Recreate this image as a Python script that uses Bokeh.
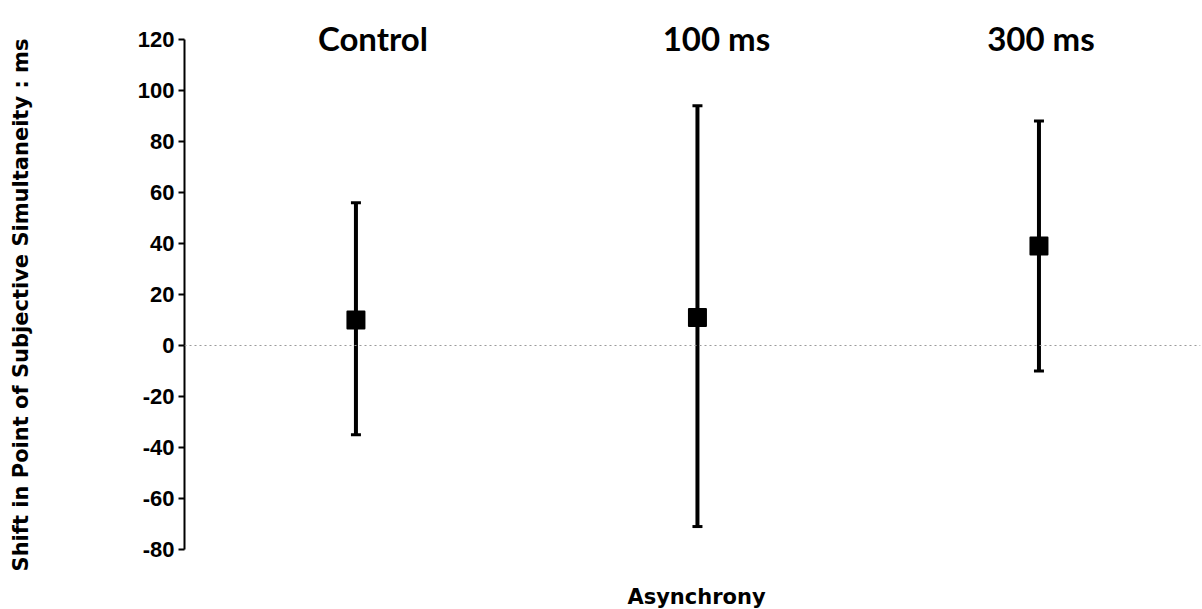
import math
from bokeh.plotting import figure
from bokeh.models import (ColumnDataSource, Whisker, TeeHead, Label, Span,
                          Range1d, FixedTicker)
from bokeh.embed import file_html
from bokeh.resources import INLINE

# ---- data ----
conditions = ["Control", "100 ms", "300 ms"]
positions = [1, 2, 3]
means = [10, 11, 39]
upper = [56, 94, 88]
lower = [-35, -71, -10]
y_ticks = [-80, -60, -40, -20, 0, 20, 40, 60, 80, 100, 120]
y_title = "Shift in Point of Subjective Simultaneity : ms"
x_title = "Asynchrony"

src = ColumnDataSource(dict(x=positions, mean=means, upper=upper, lower=lower))

# frame covers the full height; the axis itself is bounded to -80..120
p = figure(width=1202, height=609, output_backend="svg", toolbar_location=None,
           x_range=Range1d(0.498, 3.473), y_range=Range1d(-103.53, 135.29),
           x_axis_location=None, min_border_left=184, min_border_right=2,
           min_border_top=0, min_border_bottom=0)
p.outline_line_color = None
p.grid.visible = False
p.background_fill_color = "white"
p.border_fill_color = "white"

yax = p.yaxis[0]
yax.bounds = (min(y_ticks), max(y_ticks))
yax.ticker = FixedTicker(ticks=y_ticks)
yax.major_label_overrides = {t: str(t) for t in y_ticks}
yax.axis_line_color = "black"
yax.axis_line_width = 2
yax.major_tick_line_color = "black"
yax.major_tick_line_width = 2
yax.major_tick_out = 6
yax.major_tick_in = 0
yax.minor_tick_line_color = None
yax.major_label_text_font = "Liberation Sans"
yax.major_label_text_font_style = "bold"
yax.major_label_text_font_size = "22px"
yax.major_label_text_color = "black"
yax.major_label_standoff = 4
yax.axis_label = y_title
yax.axis_label_text_font = "DejaVu Sans"
yax.axis_label_text_font_style = "bold"
yax.axis_label_text_font_size = "21px"
yax.axis_label_text_color = "black"
yax.axis_label_standoff = 102

# zero reference line
p.add_layout(Span(location=0, dimension="width", line_color="#9a9a9a",
                  line_width=1, line_dash="2 3"))

# error bars
w = Whisker(source=src, base="x", upper="upper", lower="lower",
            line_color="black", line_width=4,
            upper_head=TeeHead(size=10, line_color="black", line_width=3),
            lower_head=TeeHead(size=10, line_color="black", line_width=3))
p.add_layout(w)

# means
p.scatter("x", "mean", source=src, marker="square", size=17,
          fill_color="black", line_color="black", line_join="round", line_width=2)

# condition labels above the plot
label_dx = [17, 19, 2]
for cond, pos, dx in zip(conditions, positions, label_dx):
    p.add_layout(Label(x=pos, y=572, x_units="data", y_units="screen",
                       x_offset=dx, text=cond, text_font="Lato",
                       text_font_style="bold", text_font_size="33px",
                       text_align="center", text_baseline="alphabetic",
                       text_color="black"))

# x title
p.add_layout(Label(x=512, y=13, x_units="screen", y_units="screen",
                   text=x_title, text_font="DejaVu Sans", text_font_style="bold",
                   text_font_size="21px", text_align="center",
                   text_baseline="alphabetic", text_color="black"))

open("out.html", "w").write(file_html(p, INLINE))
